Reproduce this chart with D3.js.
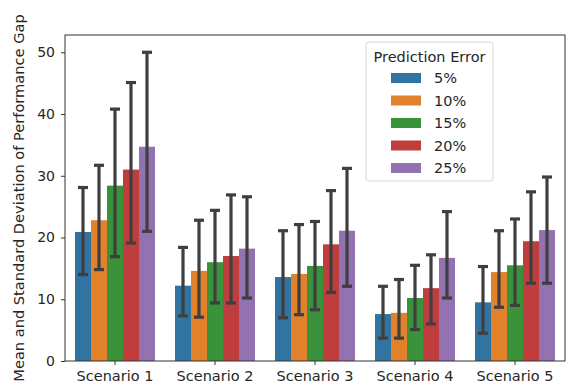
<!DOCTYPE html>
<html><head><meta charset="utf-8">
<script src="https://cdn.jsdelivr.net/npm/d3@7"></script>
<style>body{margin:0;background:#fff}svg{display:block}text{font-family:"DejaVu Sans",sans-serif;fill:#262626}</style>
</head><body><svg id="c" width="566" height="388"></svg>
<script>
const scenarios = ["Scenario 1","Scenario 2","Scenario 3","Scenario 4","Scenario 5"];
const errors = ["5%","10%","15%","20%","25%"];
const colors = ["#3274a1","#e1812c","#3a923a","#c03d3e","#9372b2"];
// means[error][scenario]
const means = [
  [20.9, 12.2, 13.6, 7.6, 9.5],
  [22.8, 14.6, 14.1, 7.8, 14.4],
  [28.4, 16.0, 15.4, 10.2, 15.5],
  [31.0, 17.0, 18.9, 11.8, 19.4],
  [34.7, 18.2, 21.1, 16.7, 21.2]
];
const errLow = [
  [14.0, 7.3, 7.0, 3.7, 4.5],
  [14.8, 7.1, 7.5, 3.7, 8.7],
  [16.9, 9.4, 8.3, 5.1, 9.0],
  [19.1, 9.4, 11.1, 6.0, 12.6],
  [21.0, 10.2, 12.1, 10.2, 12.6]
];
const errHigh = [
  [28.1, 18.4, 21.1, 12.1, 15.3],
  [31.7, 22.8, 22.1, 13.2, 21.1],
  [40.8, 24.4, 22.6, 15.5, 23.0],
  [45.1, 26.9, 27.6, 17.2, 27.4],
  [50.0, 26.6, 31.2, 24.2, 29.8]
];
const yTicks = [0,10,20,30,40,50];

const svg = d3.select("#c");
const L=65, R=565, T=35, B=361;
const x = d3.scaleBand().domain(scenarios).range([L,R]).paddingInner(0.2).paddingOuter(0.1);
const xs = d3.scaleBand().domain(errors).range([0,x.bandwidth()]);
const y = d3.scaleLinear().domain([0,52.8]).range([B,T]);

const rows=[];
errors.forEach((e,i)=>scenarios.forEach((s,j)=>rows.push({e,s,i,m:means[i][j],lo:errLow[i][j],hi:errHigh[i][j]})));

svg.append("g").selectAll("rect").data(rows).join("rect")
  .attr("x",d=>x(d.s)+xs(d.e)).attr("width",xs.bandwidth())
  .attr("y",d=>y(d.m)).attr("height",d=>y(0)-y(d.m))
  .attr("fill",d=>colors[d.i]);

const eg = svg.append("g").attr("stroke","#3f3f3f").attr("stroke-width",3.2);
rows.forEach(d=>{
  const cx = x(d.s)+xs(d.e)+xs.bandwidth()/2;
  eg.append("line").attr("x1",cx).attr("x2",cx).attr("y1",y(d.lo)).attr("y2",y(d.hi));
  [d.lo,d.hi].forEach(v=>eg.append("line").attr("x1",cx-5).attr("x2",cx+5).attr("y1",y(v)).attr("y2",y(v)));
});

// axes
const xAxis = svg.append("g").attr("transform",`translate(0,${B})`)
  .call(d3.axisBottom(x).tickSize(4).tickPadding(6));
const yAxis = svg.append("g").attr("transform",`translate(${L},0)`)
  .call(d3.axisLeft(y).tickValues(yTicks).tickSize(4).tickPadding(6));
[xAxis,yAxis].forEach(a=>{a.select(".domain").remove();a.selectAll("text").attr("fill","#262626").attr("font-family","DejaVu Sans");a.selectAll("line").attr("stroke","#333");});
xAxis.selectAll("text").attr("font-size",14.5);
yAxis.selectAll("text").attr("font-size",14);
svg.append("rect").attr("x",L).attr("y",T).attr("width",R-L).attr("height",B-T)
  .attr("fill","none").attr("stroke","#333").attr("stroke-width",1);

svg.append("text").attr("transform",`translate(24,${(T+B)/2}) rotate(-90)`)
  .attr("text-anchor","middle").attr("font-size",14.6).text("Mean and Standard Deviation of Performance Gap");

// legend
const lg = svg.append("g").attr("transform","translate(366,42)");
lg.append("rect").attr("width",127).attr("height",139).attr("rx",3).attr("fill","#fff").attr("fill-opacity",0.8).attr("stroke","#d6d6d6");
lg.append("text").attr("x",63.5).attr("y",20).attr("text-anchor","middle").attr("font-size",14.5).text("Prediction Error");
errors.forEach((e,i)=>{
  const yy = 36 + i*22.5;
  lg.append("rect").attr("x",25).attr("y",yy-5).attr("width",30).attr("height",10).attr("fill",colors[i]);
  lg.append("text").attr("x",68).attr("y",yy+5).attr("font-size",14.5).text(e);
});
</script></body></html>
